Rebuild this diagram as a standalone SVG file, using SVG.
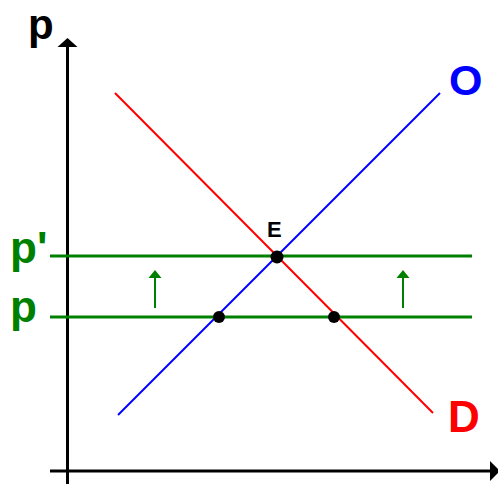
<svg xmlns="http://www.w3.org/2000/svg" width="498" height="484" viewBox="0 0 498 484">
<style>
.lbl{font-family:"Liberation Sans",Arial,sans-serif;font-weight:bold}
.axis{stroke:#000;stroke-width:3;fill:none}
.price{stroke:#008000;stroke-width:3}
.dot{fill:#000}
</style>
<rect width="498" height="484" fill="#fff"/>
<g id="connectors">
<line class="axis" x1="67.5" y1="44" x2="67.5" y2="484"/>
<polygon points="67.5,38 57.5,47 77.5,47" fill="#000"/>
<line class="axis" x1="50" y1="471" x2="492" y2="471"/>
<polygon points="500,471 490,461 490,481" fill="#000"/>
<line id="supply" x1="118" y1="415" x2="440" y2="93" stroke="#0000ff" stroke-width="2"/>
<line id="demand" x1="115" y1="93" x2="433" y2="413" stroke="#ff0000" stroke-width="2"/>
<line class="price" x1="50" y1="256" x2="472" y2="256"/>
<line class="price" x1="50" y1="317" x2="472" y2="317"/>
<g stroke="#008000" stroke-width="2" fill="#008000">
<line x1="155" y1="308" x2="155" y2="277"/>
<polygon points="155,270 148.5,278 161.5,278" stroke="none"/>
<line x1="403" y1="308" x2="403" y2="277"/>
<polygon points="403,270 396.5,278 409.5,278" stroke="none"/>
</g>
</g>
<g id="point-E">
<circle class="dot" cx="277" cy="257" r="6.5"/>
<text class="lbl" x="267" y="237" font-size="22" fill="#000">E</text>
</g>
<g id="point-left"><circle class="dot" cx="219" cy="317" r="6"/></g>
<g id="point-right"><circle class="dot" cx="334" cy="317" r="6"/></g>
<g id="label-p-axis"><text class="lbl" x="28" y="38.5" font-size="42" fill="#000">p</text></g>
<g id="label-O"><text class="lbl" x="449" y="95" font-size="43" fill="#0000ff">O</text></g>
<g id="label-D"><text class="lbl" x="448" y="432" font-size="44" fill="#ff0000">D</text></g>
<g id="label-p-prime"><text class="lbl" x="10" y="263" font-size="44" fill="#008000">p'</text></g>
<g id="label-p"><text class="lbl" x="10" y="322" font-size="44" fill="#008000">p</text></g>
</svg>
